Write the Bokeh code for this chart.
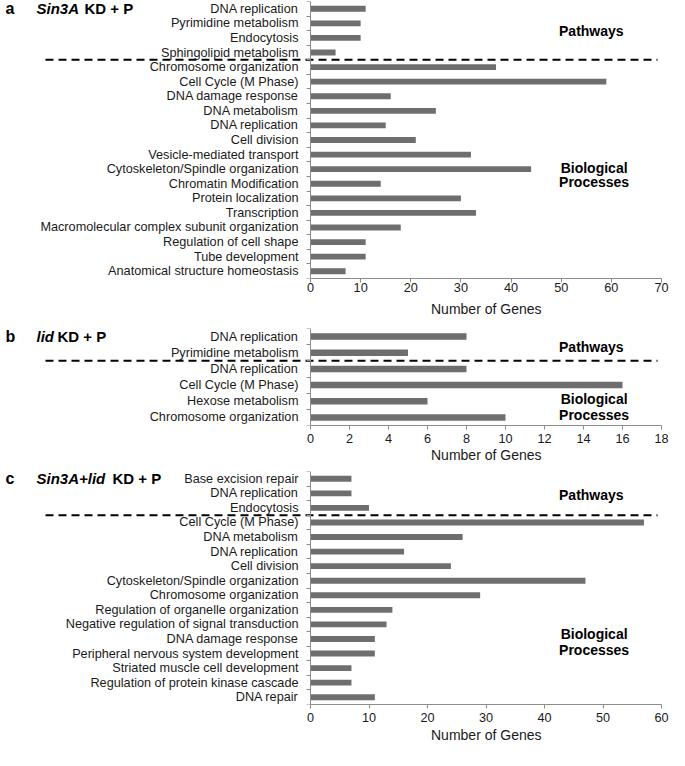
from bokeh.plotting import figure
from bokeh.models import Range1d, FixedTicker, Label, ColumnDataSource, Title
from bokeh.layouts import column
from bokeh.embed import file_html
from bokeh.resources import INLINE

# ---------------- data ----------------
a_pathways = ["DNA replication", "Pyrimidine metabolism", "Endocytosis", "Sphingolipid metabolism"]
a_pathway_genes = [11, 10, 10, 5]
a_processes = ["Chromosome organization", "Cell Cycle (M Phase)", "DNA damage response",
               "DNA metabolism", "DNA replication", "Cell division", "Vesicle-mediated transport",
               "Cytoskeleton/Spindle organization", "Chromatin Modification", "Protein localization",
               "Transcription", "Macromolecular complex subunit organization",
               "Regulation of cell shape", "Tube development", "Anatomical structure homeostasis"]
a_process_genes = [37, 59, 16, 25, 15, 21, 32, 44, 14, 30, 33, 18, 11, 11, 7]

b_pathways = ["DNA replication", "Pyrimidine metabolism"]
b_pathway_genes = [8, 5]
b_processes = ["DNA replication", "Cell Cycle (M Phase)", "Hexose metabolism", "Chromosome organization"]
b_process_genes = [8, 16, 6, 10]

c_pathways = ["Base excision repair", "DNA replication", "Endocytosis"]
c_pathway_genes = [7, 7, 10]
c_processes = ["Cell Cycle (M Phase)", "DNA metabolism", "DNA replication", "Cell division",
               "Cytoskeleton/Spindle organization", "Chromosome organization",
               "Regulation of organelle organization", "Negative regulation of signal transduction",
               "DNA damage response", "Peripheral nervous system development",
               "Striated muscle cell development", "Regulation of protein kinase cascade", "DNA repair"]
c_process_genes = [57, 26, 16, 24, 47, 29, 14, 13, 11, 11, 7, 7, 11]

a_xticks = [0, 10, 20, 30, 40, 50, 60, 70]
b_xticks = [0, 2, 4, 6, 8, 10, 12, 14, 16, 18]
c_xticks = [0, 10, 20, 30, 40, 50, 60]

x_title = "Number of Genes"

# ---------------- style ----------------
FONT = "Liberation Sans"
AXIS_GRAY = "#8c8c8c"
BAR = "#6e6e6e"
TXT = "#1a1a1a"
X0 = 310      # screen x of value 0 (frame starts at figure left = 0)
X1 = 661      # screen x of axis max
FIG_W = 669
XTITLE_W = 110  # approx. pixel width of the x title at 14px


def panel(letter, title_it, title_rest, rest_x, pathways, pgenes, processes, prgenes,
          xticks, height, top, bottom, lab_standoff, title_standoff,
          path_row, bio_rows):
    labels = pathways + processes
    vals = pgenes + prgenes
    n = len(labels)
    npath = len(pathways)
    xmax = xticks[-1]
    ys = [n - 1 - i for i in range(n)]
    scale = (X1 - X0) / xmax

    def px(sx):
        return (sx - X0) / scale

    def frac(f):
        return f * xmax

    p = figure(width=FIG_W, height=height,
               x_range=Range1d(px(0), xmax), y_range=Range1d(-0.5, n - 0.5),
               output_backend="svg", toolbar_location=None,
               min_border_left=0, min_border_right=FIG_W - X1,
               min_border_top=top, min_border_bottom=bottom)
    p.outline_line_color = None
    p.grid.visible = False
    p.background_fill_color = "white"
    p.border_fill_color = "white"

    src = ColumnDataSource(dict(y=ys, genes=vals, term=labels))
    p.hbar(y="y", right="genes", left=0, height=0.4, source=src,
           fill_color=BAR, line_color=None)

    # y axis drawn at value 0
    ya = p.yaxis[0]
    ya.fixed_location = 0
    ya.ticker = FixedTicker(ticks=ys, minor_ticks=[k - 0.5 for k in range(n + 1)])
    ya.major_label_overrides = {y: lab for y, lab in zip(ys, labels)}
    ya.major_tick_out = 0
    ya.major_tick_in = 0
    ya.major_tick_line_color = None
    ya.minor_tick_out = 4
    ya.minor_tick_in = 0
    ya.minor_tick_line_color = AXIS_GRAY
    ya.axis_line_color = AXIS_GRAY
    ya.major_label_standoff = 8
    ya.major_label_text_font = FONT
    ya.major_label_text_font_size = "12.7px"
    ya.major_label_text_color = TXT

    xa = p.xaxis[0]
    xa.bounds = (0, xmax)
    xa.ticker = FixedTicker(ticks=xticks)
    xa.major_tick_out = 4
    xa.major_tick_in = 0
    xa.major_tick_line_color = AXIS_GRAY
    xa.minor_tick_line_color = None
    xa.axis_line_color = AXIS_GRAY
    xa.major_label_standoff = lab_standoff
    xa.major_label_text_font = FONT
    xa.major_label_text_font_size = "12.7px"
    xa.major_label_text_color = TXT

    # x-axis title, centred under the bounded axis
    p.add_layout(Title(text=x_title, align="left", vertical_align="top",
                       offset=(X0 + X1) / 2 - XTITLE_W / 2,
                       standoff=title_standoff, text_font=FONT, text_font_size="14px",
                       text_font_style="normal", text_color=TXT), "below")

    # dashed divider between pathways and biological processes
    yd = n - npath - 0.5
    p.segment(x0=[px(45)], x1=[px(X1 - 4)], y0=[yd], y1=[yd],
              line_color="black", line_width=2, line_dash="8 5")

    def row(r):
        return n - 1 - r

    p.add_layout(Label(x=frac(0.80), y=row(path_row), text="Pathways",
                       text_font=FONT, text_font_style="bold", text_font_size="14px",
                       text_align="center", text_baseline="middle", text_color="black"))
    p.add_layout(Label(x=frac(0.808), y=row(bio_rows[0]), text="Biological",
                       text_font=FONT, text_font_style="bold", text_font_size="14px",
                       text_align="center", text_baseline="middle", text_color="black"))
    p.add_layout(Label(x=frac(0.808), y=row(bio_rows[1]), text="Processes",
                       text_font=FONT, text_font_style="bold", text_font_size="14px",
                       text_align="center", text_baseline="middle", text_color="black"))

    # panel title
    p.add_layout(Label(x=px(5), y=row(0), text=letter,
                       text_font=FONT, text_font_style="bold", text_font_size="16px",
                       text_align="left", text_baseline="middle", text_color="black"))
    p.add_layout(Label(x=px(36), y=row(0), text=title_it,
                       text_font=FONT, text_font_style="bold italic", text_font_size="15px",
                       text_align="left", text_baseline="middle", text_color="black"))
    p.add_layout(Label(x=px(rest_x), y=row(0), text=title_rest,
                       text_font=FONT, text_font_style="bold", text_font_size="15px",
                       text_align="left", text_baseline="middle", text_color="black"))
    return p


pa = panel("a", "Sin3A", "KD + P", 84, a_pathways, a_pathway_genes, a_processes, a_process_genes,
           a_xticks, 324, 1, 46, 0, 12, 1.55, (10.9, 11.9))
pb = panel("b", "lid", "KD + P", 57, b_pathways, b_pathway_genes, b_processes, b_process_genes,
           b_xticks, 146, 4, 45, 4, 2, 0.66, (3.87, 4.82))
pc = panel("c", "Sin3A+lid", "KD + P", 112, c_pathways, c_pathway_genes, c_processes, c_process_genes,
           c_xticks, 280, 1, 46, 4, 4, 1.11, (10.67, 11.73))

layout = column(pa, pb, pc)
open("out.html", "w").write(file_html(layout, INLINE))
